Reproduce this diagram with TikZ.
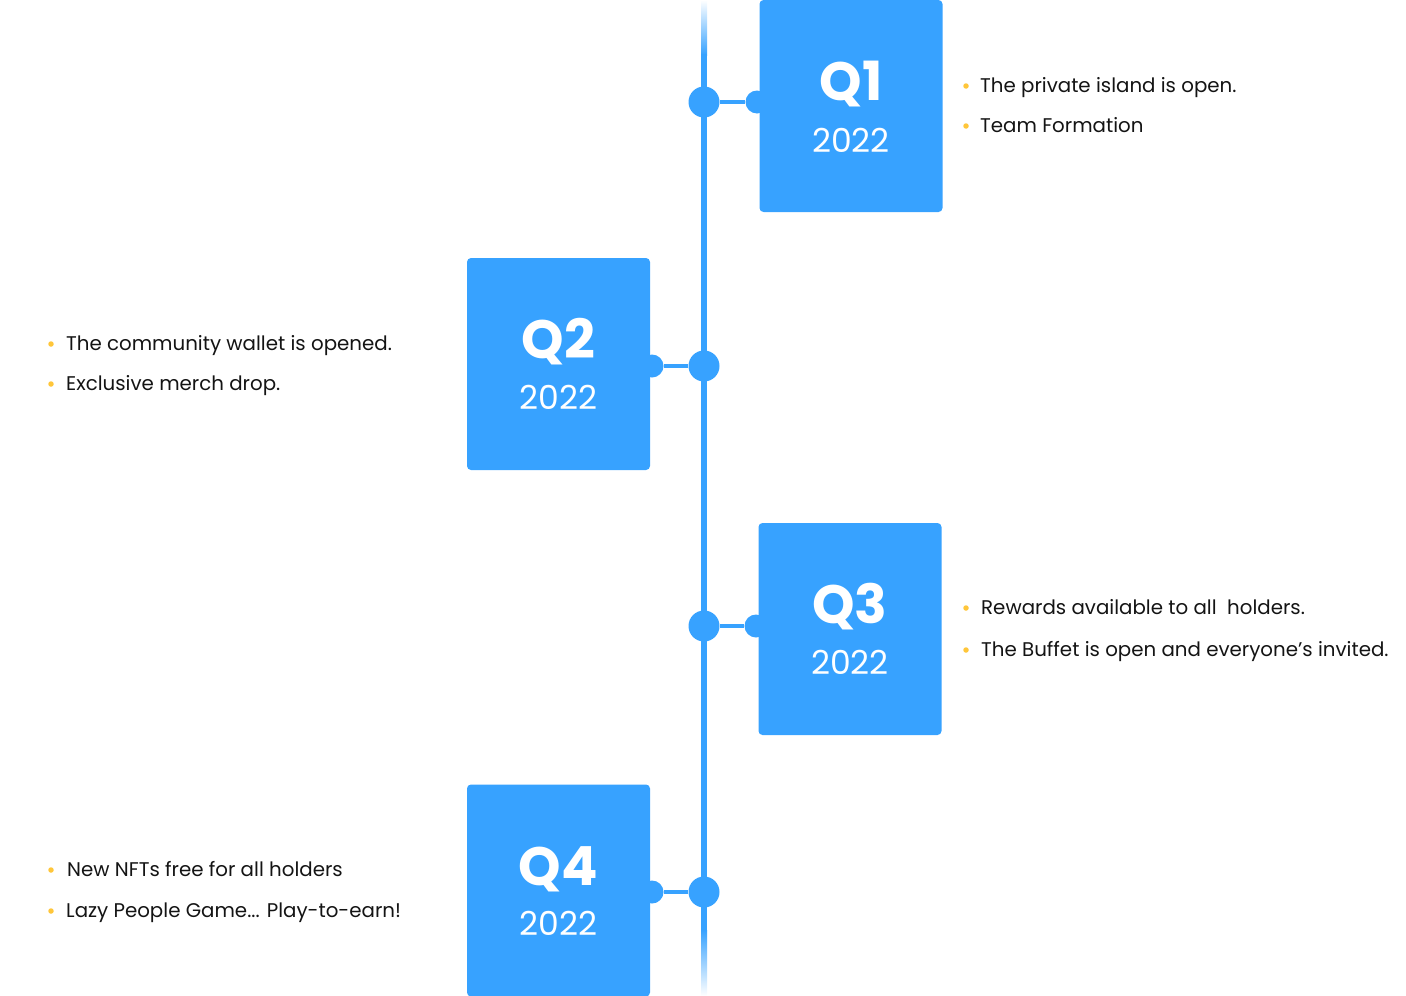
\documentclass[tikz,border=0pt]{standalone}
\usepackage{fontspec}
\setmainfont{Poppins}
\usetikzlibrary{positioning}

\definecolor{tlblue}{RGB}{55,162,255}
\definecolor{bulyellow}{RGB}{255,198,58}
\definecolor{inktext}{RGB}{20,20,20}

\tikzset{
  qbox/.style={fill=tlblue, rounded corners=4pt, minimum width=183pt,
    minimum height=212pt, inner sep=0pt},
  qtitle/.style={text=white, anchor=base, inner sep=0pt,
    font=\fontsize{54}{54}\selectfont\bfseries},
  qyear/.style={text=white, anchor=base, inner sep=0pt,
    font=\fontsize{33}{33}\selectfont},
  hub/.style={circle, fill=tlblue, minimum size=31pt, inner sep=0pt},
  port/.style={circle, fill=tlblue, minimum size=23pt, inner sep=0pt},
  link/.style={draw=tlblue, line width=4pt},
  bul/.style={circle, fill=bulyellow, minimum size=5.5pt, inner sep=0pt},
  item/.style={text=inktext, anchor=base west, inner sep=0pt,
    font=\fontsize{19.8}{19.8}\selectfont}
}

\begin{document}
\begin{tikzpicture}[x=1pt, y=-1pt]
    \useasboundingbox (0,0) rectangle (1406,996);

    % Timeline, fading at both ends
    \coordinate (top) at (704,0);
    \coordinate (bot) at (704,996);
    \shade[top color=white, bottom color=tlblue] (701,0) rectangle (707,55);
    \draw[tlblue, line width=6pt] (704,54) -- (704,932);
    \shade[top color=tlblue, bottom color=white] (701,930) rectangle (707,996);

    % Q1
    \node[port] (p1) at (757,102) {};
    \node[qbox] (q1) at (851,106) {};
    \node[qtitle] at (851,100) {Q1};
    \node[qyear] at (851,152) {2022};
    \node[hub] (d1) at (704,102) {};
    \draw[link] (d1) -- (p1);
    \node[bul] (b11) at (966,86) {};
    \node[bul] (b12) at (966,126) {};
    \node[item] at (980,92) {The private island is open.};
    \node[item] at (980,132) {Team Formation};

    % Q2
    \node[port] (p2) at (652,366) {};
    \node[qbox] (q2) at (558.5,364) {};
    \node[qtitle] at (558.5,358) {Q2};
    \node[qyear] at (558.5,409) {2022};
    \node[hub] (d2) at (704,366) {};
    \draw[link] (d2) -- (p2);
    \node[bul] (b21) at (51,344) {};
    \node[bul] (b22) at (51,384) {};
    \node[item] at (66,350) {The community wallet is opened.};
    \node[item] at (66,390) {Exclusive merch drop.};

    % Q3
    \node[port] (p3) at (756,626) {};
    \node[qbox] (q3) at (850,629) {};
    \node[qtitle] at (850,623) {Q3};
    \node[qyear] at (850,674) {2022};
    \node[hub] (d3) at (704,626) {};
    \draw[link] (d3) -- (p3);
    \node[bul] (b31) at (966,608) {};
    \node[bul] (b32) at (966,650) {};
    \node[item] at (981,614) {Rewards available to all\ \ holders.};
    \node[item] at (981,656) {The Buffet is open and everyone’s invited.};

    % Q4
    \node[port] (p4) at (652,892) {};
    \node[qbox] (q4) at (558.5,890.5) {};
    \node[qtitle] at (558.5,885) {Q4};
    \node[qyear] at (558.5,935) {2022};
    \node[hub] (d4) at (704,892) {};
    \draw[link] (d4) -- (p4);
    \node[bul] (b41) at (51,870) {};
    \node[bul] (b42) at (51,911) {};
    \node[item] at (67,876) {New NFTs free for all holders};
    \node[item] at (66,917) {Lazy People Game... Play-to-earn!};

\end{tikzpicture}
\end{document}
